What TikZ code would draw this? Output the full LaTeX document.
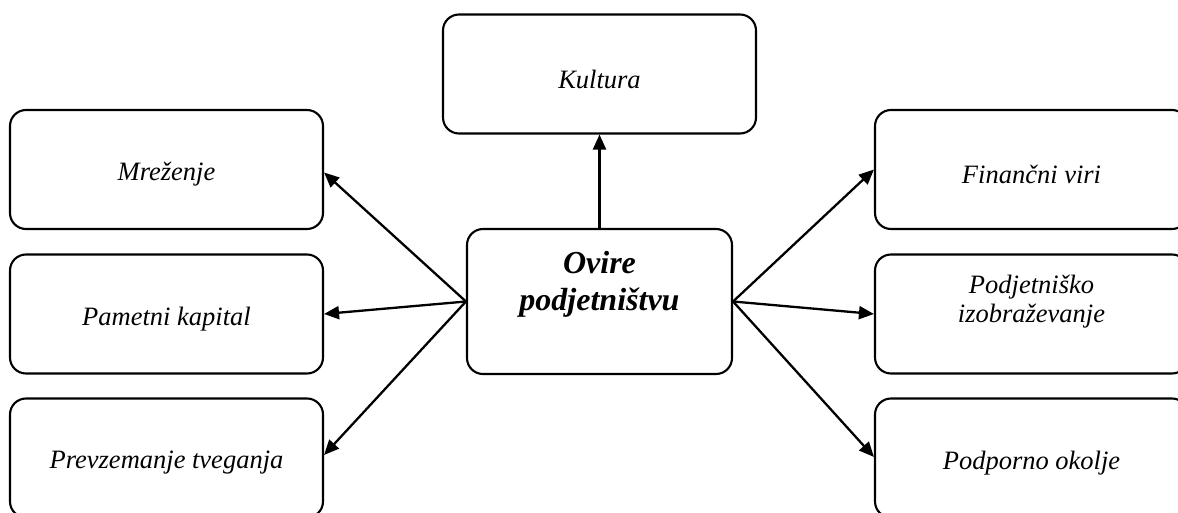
\documentclass[tikz,border=0pt]{standalone}
\usepackage{fontspec}
\setmainfont{Liberation Serif}
\usetikzlibrary{arrows.meta}
\begin{document}
\begin{tikzpicture}[x=1pt,y=-1pt,
  box/.style={draw, line width=2.1pt, rounded corners=16pt, minimum width=313pt, minimum height=119pt, inner sep=0pt},
  cbox/.style={draw, line width=2.1pt, rounded corners=16pt, minimum width=265pt, minimum height=145pt, inner sep=0pt},
  txt/.style={font=\fontsize{26.5}{29}\selectfont\itshape, align=center, inner sep=0pt},
  ctxt/.style={font=\fontsize{32}{37}\selectfont\bfseries\itshape, align=center, inner sep=0pt},
  conn/.style={line width=2.3pt, -{Triangle[length=15pt,width=13pt]}}]
\useasboundingbox (0,0) rectangle (1178,513);
\clip (0,0) rectangle (1178,513);
\node[box, label={[txt, yshift=-5pt]center:Kultura}] (k) at (599.5,74) {};
\node[box, label={[txt, yshift=-5pt]center:Mreženje}] (m) at (166.5,169.5) {};
\node[box, label={[txt, yshift=-5pt]center:Pametni kapital}] (p) at (166.5,314) {};
\node[box, label={[txt, yshift=-5pt]center:Prevzemanje tveganja}] (t) at (166.5,458) {};
\node[box, label={[txt, yshift=-5pt]center:Finančni viri}] (f) at (1031.5,169.5) {};
\node[box, label={[txt, yshift=12pt]center:Podjetniško\\izobraževanje}] (e) at (1031.5,314) {};
\node[box, label={[txt, yshift=-5pt]center:Podporno okolje}] (o) at (1031.5,458) {};
\node[cbox, label={[ctxt, yshift=17pt]center:Ovire\\podjetništvu}] (c) at (599.5,301.5) {};
\draw[conn] (c.north) -- (k.south);
\draw[conn] (c.west) -- ([yshift=-3pt]m.east);
\draw[conn] (c.west) -- (p.east);
\draw[conn] (c.west) -- ([yshift=3pt]t.east);
\draw[conn] (c.east) -- (f.west);
\draw[conn] (c.east) -- (e.west);
\draw[conn] (c.east) -- ([yshift=1pt]o.west);
\end{tikzpicture}
\end{document}
